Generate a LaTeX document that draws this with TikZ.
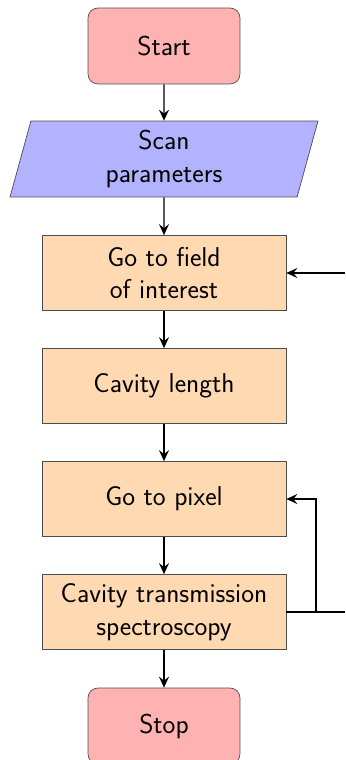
\documentclass[tikz,border=0pt]{standalone}
\usetikzlibrary{shapes.geometric,arrows.meta}
\begin{document}
\begin{tikzpicture}[x=0.02cm,y=-0.02cm,
  base/.style={draw=black!70, font=\sffamily\fontsize{15.5}{18.6}\selectfont, align=center, inner sep=0pt},
  startstop/.style={base, rectangle, rounded corners=0.2cm, minimum width=3.04cm, minimum height=1.52cm, fill=red!30},
  io/.style={base, trapezium, trapezium left angle=70, trapezium right angle=110, trapezium stretches body, minimum width=6.16cm, minimum height=1.52cm, fill=blue!30},
  process/.style={base, rectangle, minimum width=4.88cm, minimum height=1.5cm, fill=orange!30},
  arrow/.style={thick, -{Stealth[length=2.2mm,width=2mm,inset=0.8mm]}},
  conn/.style={thick}]
\useasboundingbox (0,0) rectangle (345,760);
\node[startstop] (start) at (164,46) {Start};
\node[io] (scan) at (164,159) {Scan\\parameters};
\node[process] (field) at (164,273) {Go to field\\of interest};
\node[process] (cav) at (164,386) {Cavity length};
\node[process] (pix) at (164,499) {Go to pixel};
\node[process] (trans) at (164,612) {Cavity transmission\\spectroscopy};
\node[startstop] (stop) at (164,726) {Stop};
\coordinate (rin) at (345,273);
\coordinate (rout) at (345,612);
\coordinate (br) at (316,612);
\draw[arrow] (start) -- (scan);
\draw[arrow] (scan) -- (field);
\draw[arrow] (field) -- (cav);
\draw[arrow] (cav) -- (pix);
\draw[arrow] (pix) -- (trans);
\draw[arrow] (trans) -- (stop);
\draw[arrow] (rin) -- (field.east);
\draw[conn] (trans.east) -- (rout);
\draw[arrow] (br) |- (pix.east);
\end{tikzpicture}
\end{document}
